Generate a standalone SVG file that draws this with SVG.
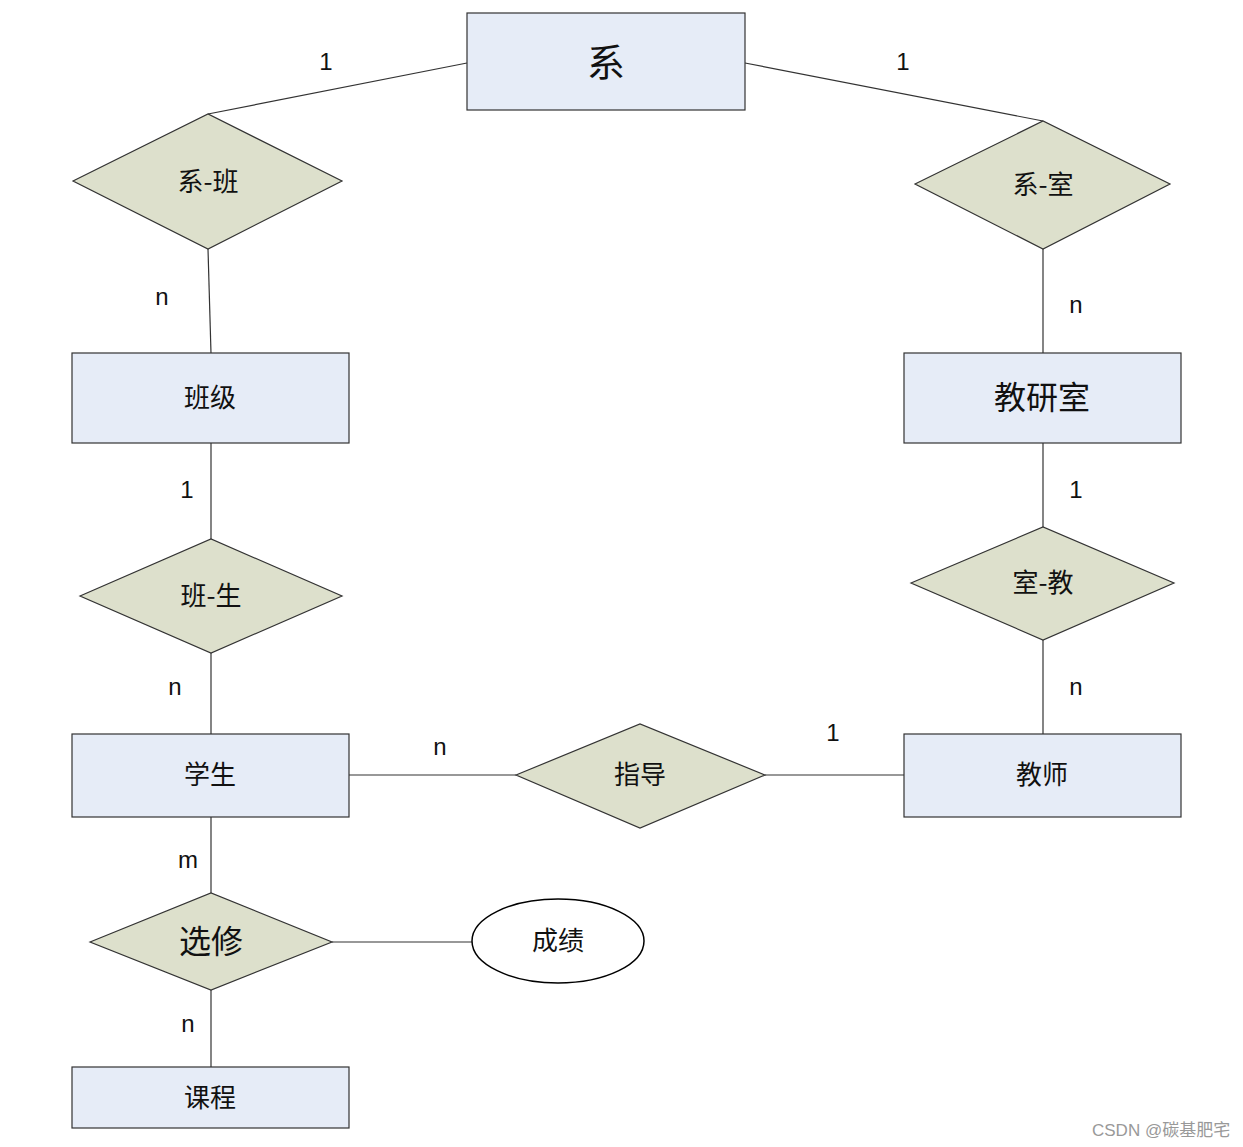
<svg xmlns="http://www.w3.org/2000/svg" width="1243" height="1147" viewBox="0 0 1243 1147">
<style>
.ent{fill:#E6ECF7;stroke:#333;stroke-width:1.2}
.rel{fill:#DDE0CC;stroke:#333;stroke-width:1.2}
.attr{fill:#fff;stroke:#000;stroke-width:1.5}
.ln{stroke:#333;stroke-width:1.2;fill:none}
.t{font-family:"Noto Sans CJK SC","Liberation Sans",sans-serif;font-size:26px;fill:#111;text-anchor:middle;dominant-baseline:central}
.lb{font-family:"Liberation Sans",Arial,sans-serif;font-size:24px;fill:#111;text-anchor:middle;dominant-baseline:central}
.wm{font-family:"Liberation Sans","Noto Sans CJK SC",sans-serif;font-size:17px;fill:#999}
</style>
<rect width="1243" height="1147" fill="#fff"/>
<g id="connectors">
<line class="ln" x1="467" y1="63" x2="208" y2="114"/>
<line class="ln" x1="745" y1="63" x2="1043" y2="121"/>
<line class="ln" x1="208" y1="249" x2="211" y2="353"/>
<line class="ln" x1="1043" y1="249" x2="1043" y2="353"/>
<line class="ln" x1="211" y1="443" x2="211" y2="539"/>
<line class="ln" x1="1043" y1="443" x2="1043" y2="527"/>
<line class="ln" x1="211" y1="653" x2="211" y2="734"/>
<line class="ln" x1="1043" y1="640" x2="1043" y2="734"/>
<line class="ln" x1="349" y1="775" x2="516" y2="775"/>
<line class="ln" x1="765" y1="775" x2="904" y2="775"/>
<line class="ln" x1="211" y1="817" x2="211" y2="893"/>
<line class="ln" x1="332" y1="942" x2="472" y2="942"/>
<line class="ln" x1="211" y1="990" x2="211" y2="1067"/>
</g>
<g id="labels">
<text class="lb" x="326" y="61">1</text>
<text class="lb" x="903" y="61">1</text>
<text class="lb" x="162" y="296">n</text>
<text class="lb" x="1076" y="304">n</text>
<text class="lb" x="187" y="489">1</text>
<text class="lb" x="1076" y="489">1</text>
<text class="lb" x="175" y="686">n</text>
<text class="lb" x="1076" y="686">n</text>
<text class="lb" x="440" y="746">n</text>
<text class="lb" x="833" y="732">1</text>
<text class="lb" x="188" y="859">m</text>
<text class="lb" x="188" y="1023">n</text>
</g>
<g id="xi">
<rect class="ent" x="467" y="13" width="278" height="97"/>
<text class="t" x="606" y="59" style="font-size:38px">系</text>
</g>
<g id="xi-ban">
<polygon class="rel" points="73,181 208,114 342,181 208,249"/>
<text class="t" x="208" y="179">系-班</text>
</g>
<g id="xi-shi">
<polygon class="rel" points="915,184 1043,121 1170,184 1043,249"/>
<text class="t" x="1043" y="182">系-室</text>
</g>
<g id="banji">
<rect class="ent" x="72" y="353" width="277" height="90"/>
<text class="t" x="210" y="395">班级</text>
</g>
<g id="jiaoyanshi">
<rect class="ent" x="904" y="353" width="277" height="90"/>
<text class="t" x="1042" y="395" style="font-size:32px">教研室</text>
</g>
<g id="ban-sheng">
<polygon class="rel" points="80,596 211,539 342,596 211,653"/>
<text class="t" x="211" y="593">班-生</text>
</g>
<g id="shi-jiao">
<polygon class="rel" points="911,583 1043,527 1174,583 1043,640"/>
<text class="t" x="1043" y="580">室-教</text>
</g>
<g id="xuesheng">
<rect class="ent" x="72" y="734" width="277" height="83"/>
<text class="t" x="210" y="772">学生</text>
</g>
<g id="jiaoshi">
<rect class="ent" x="904" y="734" width="277" height="83"/>
<text class="t" x="1042" y="772">教师</text>
</g>
<g id="zhidao">
<polygon class="rel" points="516,775 640,724 765,775 640,828"/>
<text class="t" x="640" y="772">指导</text>
</g>
<g id="xuanxiu">
<polygon class="rel" points="90,942 211,893 332,942 211,990"/>
<text class="t" x="211" y="939" style="font-size:32px">选修</text>
</g>
<g id="chengji">
<ellipse class="attr" cx="558" cy="941" rx="86" ry="42"/>
<text class="t" x="558" y="938">成绩</text>
</g>
<g id="kecheng">
<rect class="ent" x="72" y="1067" width="277" height="61"/>
<text class="t" x="210" y="1095">课程</text>
</g>
<text class="wm" x="1092" y="1136">CSDN @碳基肥宅</text>
</svg>
